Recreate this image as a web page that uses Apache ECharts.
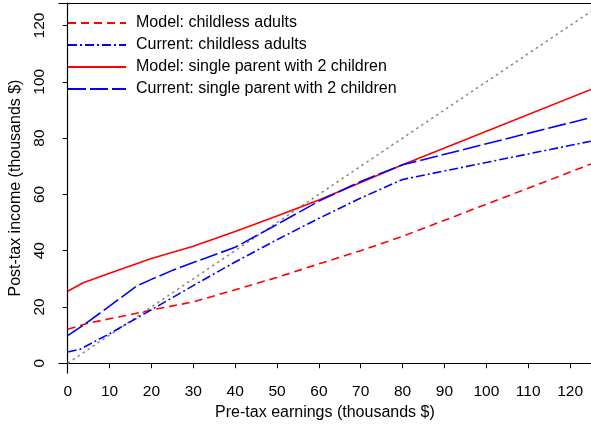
<!DOCTYPE html>
<html>
<head>
<meta charset="utf-8">
<script src="https://cdn.jsdelivr.net/npm/echarts@6/dist/echarts.min.js"></script>
<style>
html,body{margin:0;padding:0;background:#fff;}
#chart{width:591px;height:426px;}
</style>
</head>
<body>
<div id="chart"></div>
<script>
// Data (thousands $)
const modelChildlessX = [0, 5, 10, 15, 20, 30, 40, 50, 60, 70, 80, 90, 100, 110, 125];
const modelChildlessY = [12.1, 14.3, 15.8, 17.3, 18.9, 21.8, 26.1, 30.5, 35.3, 40.0, 45.1, 50.8, 56.5, 62.2, 70.8];

const currentChildlessX = [0, 3, 10, 20, 30, 40, 50, 60, 70, 80, 125];
const currentChildlessY = [4.0, 5.0, 10.5, 19.0, 27.6, 36.0, 43.9, 51.5, 58.7, 65.3, 78.9];

const modelParentX = [0, 3.7, 10, 20, 30, 40, 50, 60, 70, 80, 125];
const modelParentY = [25.6, 28.6, 32.0, 37.2, 41.6, 46.8, 52.3, 58.0, 64.2, 70.5, 97.3];

const currentParentX = [0, 4, 10, 16.5, 20, 25, 30, 40, 50, 60, 70, 80, 125];
const currentParentY = [9.8, 13.8, 20.3, 27.5, 29.8, 33.0, 35.8, 41.2, 49.3, 57.6, 64.6, 70.5, 87.3];

const diagonalX = [0, 125];
const diagonalY = [0, 125];

const seriesNames = [
  'Model: childless adults',
  'Current: childless adults',
  'Model: single parent with 2 children',
  'Current: single parent with 2 children'
];
const xTicks = [0, 10, 20, 30, 40, 50, 60, 70, 80, 90, 100, 110, 120];
const yTicks = [0, 20, 40, 60, 80, 100, 120];

function zip(xs, ys) { return xs.map((x, i) => [x, ys[i]]); }

const chart = echarts.init(document.getElementById('chart'), null, {renderer: 'canvas'});
const FONT = 'Liberation Sans, Arial, sans-serif';

function lineSeries(name, xs, ys, color, dash, z) {
  return {
    name: name, type: 'line', data: zip(xs, ys), symbol: 'none', showSymbol: false,
    smooth: false, animation: false, z: z || 2,
    lineStyle: {color: color, width: 1.6, type: dash},
    itemStyle: {color: color}
  };
}

chart.setOption({
  animation: false,
  backgroundColor: '#fff',
  textStyle: {fontFamily: FONT},
  grid: {left: 54, right: 0, top: 3, bottom: 47, containLabel: false},
  legend: {
    orient: 'vertical', left: 67, top: 15, padding: 0,
    itemWidth: 58, itemHeight: 14, itemGap: 6,
    data: seriesNames,
    itemStyle: {opacity: 0},
    textStyle: {fontFamily: FONT, fontSize: 16, color: '#000', padding: [0, 0, 0, 5]}
  },
  xAxis: [{
    type: 'value', min: -2.1, max: 125, position: 'bottom',
    name: 'Pre-tax earnings (thousands $)', nameLocation: 'middle', nameGap: 26,
    nameTextStyle: {fontFamily: FONT, fontSize: 16, color: '#000'},
    axisLine: {show: true, lineStyle: {color: '#000', width: 1.2}},
    axisTick: {show: true, customValues: xTicks, length: 5, inside: false, lineStyle: {color: '#000'}},
    axisLabel: {customValues: xTicks, margin: 11, fontFamily: FONT, fontSize: 15.5, color: '#000'},
    splitLine: {show: false}
  }, {
    type: 'value', min: -2.1, max: 125, position: 'top',
    axisLine: {show: true, lineStyle: {color: '#000', width: 1.2}},
    axisTick: {show: false}, axisLabel: {show: false}, splitLine: {show: false}
  }],
  yAxis: {
    type: 'value', min: -3.5, max: 128,
    name: 'Post-tax income (thousands $)', nameLocation: 'middle', nameGap: 29, nameRotate: 90,
    nameTextStyle: {fontFamily: FONT, fontSize: 16, color: '#000'},
    axisLine: {show: true, lineStyle: {color: '#000', width: 1.2}},
    axisTick: {show: true, customValues: yTicks, length: 5, lineStyle: {color: '#000'}},
    axisLabel: {customValues: yTicks, rotate: 90, margin: 11, fontFamily: FONT, fontSize: 15.5, color: '#000'},
    splitLine: {show: false}
  },
  series: [
    lineSeries('diag', diagonalX, diagonalY, '#8c8c8c', [2.5, 3.5], 1),
    lineSeries(seriesNames[0], modelChildlessX, modelChildlessY, '#ff0000', [8, 5], 2),
    lineSeries(seriesNames[1], currentChildlessX, currentChildlessY, '#0000ff', [9, 3, 2, 3], 3),
    lineSeries(seriesNames[2], modelParentX, modelParentY, '#ff0000', 'solid', 4),
    lineSeries(seriesNames[3], currentParentX, currentParentY, '#0000ff', [18, 4], 5)
  ]
});
</script>
</body>
</html>
